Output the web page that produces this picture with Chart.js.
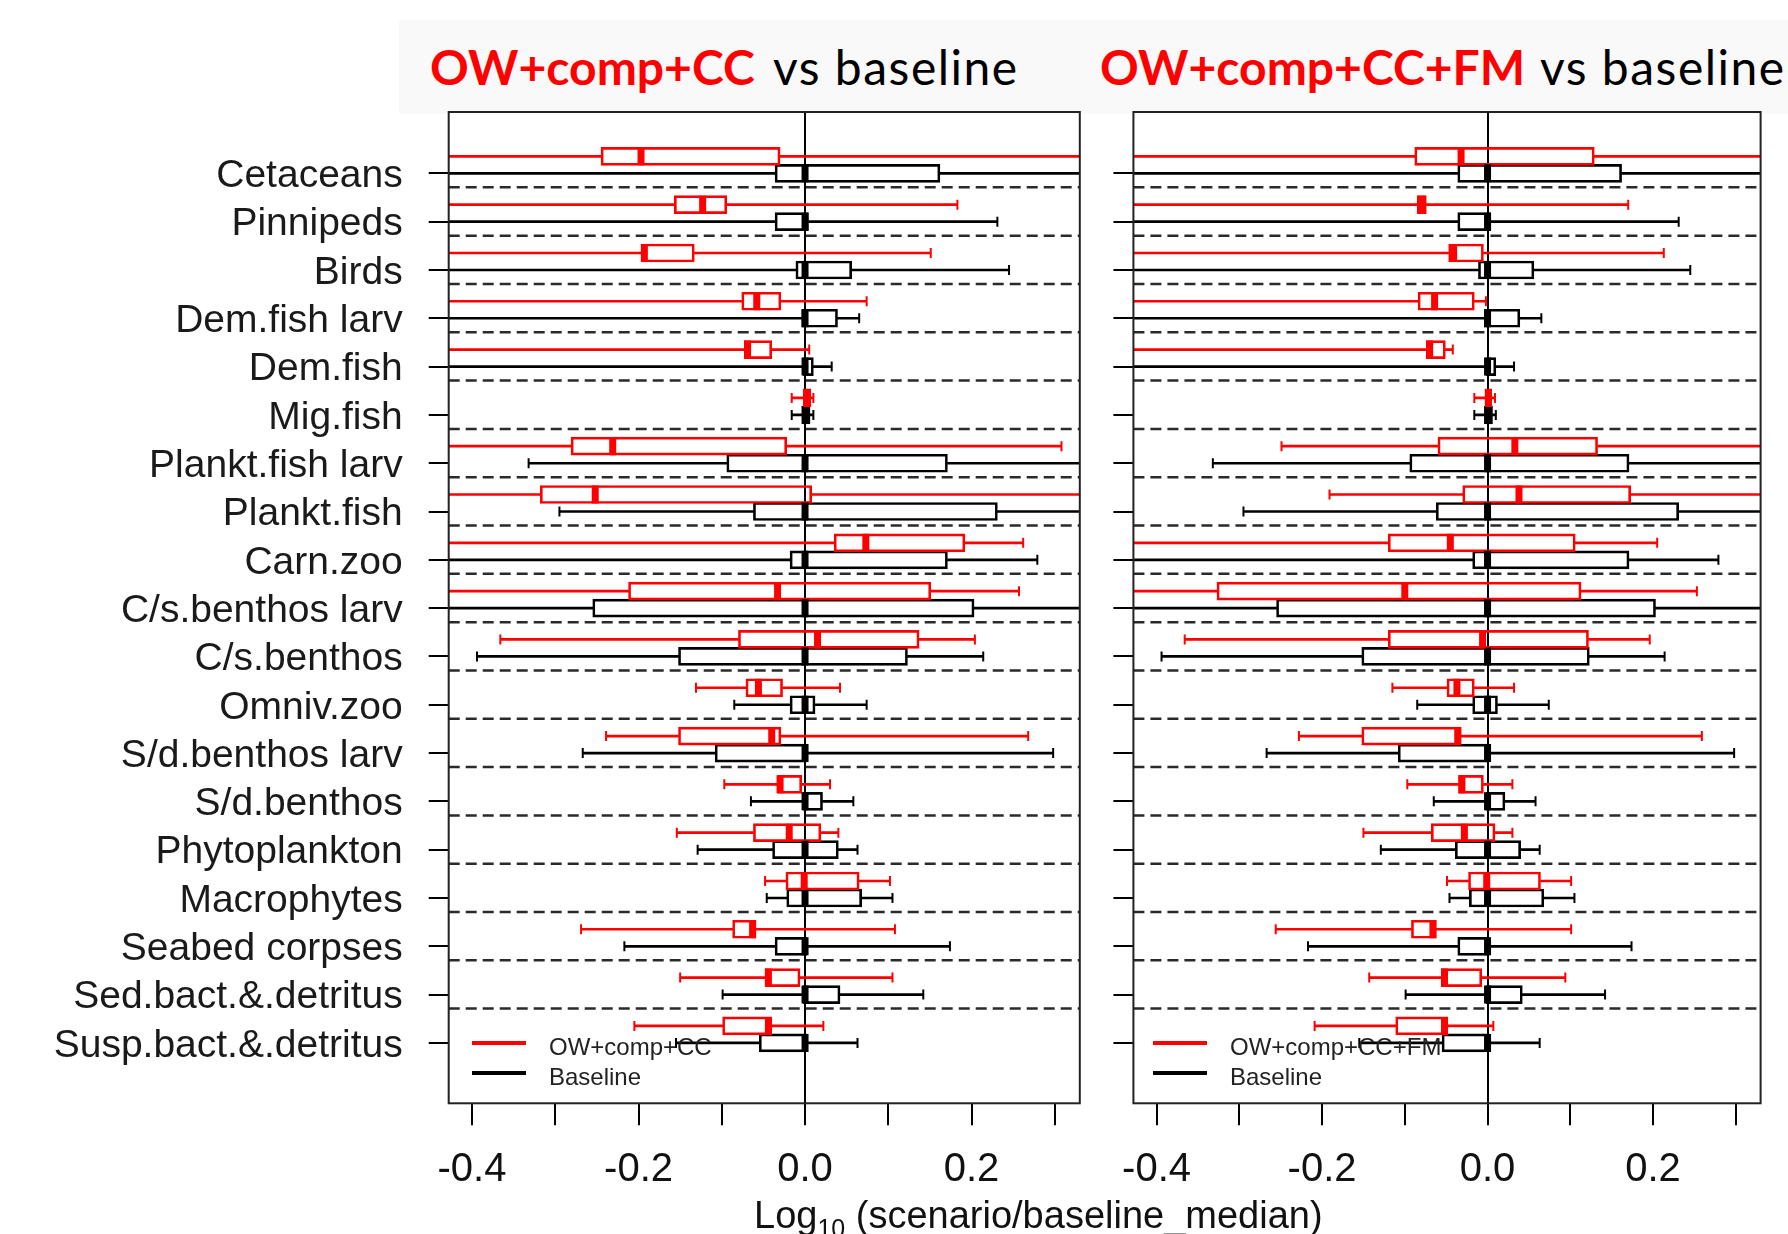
<!DOCTYPE html>
<html>
<head>
<meta charset="utf-8">
<script src="https://cdn.jsdelivr.net/npm/chart.js@4.4.1/dist/chart.umd.min.js"></script>
<style>
  html, body { margin: 0; padding: 0; background: #fff; }
  body { width: 1788px; height: 1234px; overflow: hidden; position: relative; font-family: 'Liberation Sans', Arial, sans-serif; }
  .wrap { position: absolute; top: 0; height: 1234px; }
  .band { position: absolute; left: 399px; top: 20px; width: 1389px; height: 94px; background: #f9f9f9; }
  .title { position: absolute; top: 43px; font-family: Lato, 'Noto Sans', sans-serif; font-size: 48px; line-height: 1; white-space: nowrap; color: #000; }
  .title.r { color: #ff0000; font-weight: 700; }
  .title.k { letter-spacing: 1.5px; }
  .legline { position: absolute; width: 54px; height: 4px; }
  .legtext { position: absolute; font-size: 24px; line-height: 1; color: #222; white-space: nowrap; }
  .xtitle { position: absolute; left: 754px; top: 1196px; font-size: 38px; line-height: 1; color: #111; white-space: nowrap; }
  .xtitle sub { font-size: 25px; vertical-align: -9px; line-height: 0; }
</style>
</head>
<body>
<div class="band"></div>
<div class="title r" style="left:430px">OW+comp+CC</div>
<div class="title k" style="left:773px">vs baseline</div>
<div class="title r" style="left:1100px">OW+comp+CC+FM</div>
<div class="title k" style="left:1540px">vs baseline</div>

<div class="wrap" style="left:0;width:1110px"><canvas id="c1"></canvas></div>
<div class="wrap" style="left:1100px;width:688px"><canvas id="c2"></canvas></div>

<div class="legline" style="left:472px;top:1041px;background:#f00"></div>
<div class="legtext" style="left:549px;top:1035px">OW+comp+CC</div>
<div class="legline" style="left:472px;top:1071px;background:#000"></div>
<div class="legtext" style="left:549px;top:1065px">Baseline</div>

<div class="legline" style="left:1153px;top:1041px;background:#f00"></div>
<div class="legtext" style="left:1230px;top:1035px">OW+comp+CC+FM</div>
<div class="legline" style="left:1153px;top:1071px;background:#000"></div>
<div class="legtext" style="left:1230px;top:1065px">Baseline</div>

<div class="xtitle">Log<sub>10</sub> (scenario/baseline_median)</div>

<script>
var cats = ['Cetaceans', 'Pinnipeds', 'Birds', 'Dem.fish larv', 'Dem.fish', 'Mig.fish',
  'Plankt.fish larv', 'Plankt.fish', 'Carn.zoo', 'C/s.benthos larv', 'C/s.benthos', 'Omniv.zoo',
  'S/d.benthos larv', 'S/d.benthos', 'Phytoplankton', 'Macrophytes', 'Seabed corpses',
  'Sed.bact.&.detritus', 'Susp.bact.&.detritus'];

var xTicks = [-0.4, -0.3, -0.2, -0.1, 0, 0.1, 0.2, 0.3];
var xTickLabels = ['-0.4', '', '-0.2', '', '0.0', '', '0.2', ''];

// whiskers that run off the frame are given as -0.5 / 0.45
// baseline (same in both panels)
var baseLo  = [-0.5, -0.5, -0.5, -0.5, -0.5, -0.016, -0.332, -0.295, -0.5, -0.5, -0.394, -0.085, -0.267, -0.065, -0.129, -0.046, -0.217, -0.099, -0.155];
var baseQ1  = [-0.036, -0.036, -0.011, -0.004, -0.002, -0.002, -0.094, -0.062, -0.018, -0.255, -0.152, -0.018, -0.108, -0.002, -0.039, -0.022, -0.036, -0.002, -0.055];
var baseMed = [0, 0, 0, 0, 0, 0, 0, 0, 0, 0, 0, 0, 0, 0, 0, 0, 0, 0, 0];
var baseQ3  = [0.162, 0.004, 0.056, 0.039, 0.010, 0.006, 0.171, 0.231, 0.171, 0.203, 0.123, 0.012, 0.002, 0.021, 0.040, 0.068, 0.002, 0.042, 0.002];
var baseHi  = [0.45, 0.231, 0.245, 0.065, 0.032, 0.010, 0.45, 0.45, 0.279, 0.45, 0.214, 0.074, 0.298, 0.058, 0.063, 0.105, 0.174, 0.142, 0.063];

// OW+comp+CC
var ccLo  = [-0.5, -0.5, -0.5, -0.5, -0.5, -0.016, -0.5, -0.5, -0.5, -0.5, -0.366, -0.131, -0.239, -0.097, -0.154, -0.048, -0.269, -0.150, -0.205];
var ccQ1  = [-0.245, -0.157, -0.196, -0.076, -0.073, -0.002, -0.281, -0.318, 0.035, -0.212, -0.080, -0.071, -0.152, -0.033, -0.062, -0.023, -0.087, -0.048, -0.099];
var ccMed = [-0.197, -0.123, -0.193, -0.058, -0.069, 0.002, -0.231, -0.252, 0.073, -0.033, 0.015, -0.056, -0.040, -0.030, -0.019, -0.001, -0.063, -0.044, -0.044];
var ccQ3  = [-0.030, -0.094, -0.133, -0.029, -0.040, 0.007, -0.022, 0.008, 0.192, 0.151, 0.137, -0.027, -0.029, -0.004, 0.019, 0.065, -0.059, -0.006, -0.040];
var ccHi  = [0.45, 0.183, 0.151, 0.074, 0.005, 0.010, 0.308, 0.45, 0.262, 0.257, 0.204, 0.042, 0.268, 0.030, 0.040, 0.102, 0.108, 0.105, 0.022];

// OW+comp+CC+FM
var fmLo  = [-0.5, -0.5, -0.5, -0.5, -0.5, -0.016, -0.249, -0.191, -0.5, -0.5, -0.366, -0.115, -0.228, -0.097, -0.150, -0.049, -0.256, -0.143, -0.209];
var fmQ1  = [-0.088, -0.085, -0.047, -0.084, -0.074, -0.003, -0.060, -0.030, -0.120, -0.327, -0.120, -0.049, -0.152, -0.035, -0.068, -0.023, -0.092, -0.056, -0.111];
var fmMed = [-0.032, -0.080, -0.041, -0.064, -0.070, 0.001, 0.033, 0.038, -0.045, -0.100, -0.006, -0.037, -0.036, -0.031, -0.028, -0.001, -0.066, -0.052, -0.052];
var fmQ3  = [0.129, -0.074, -0.005, -0.016, -0.051, 0.005, 0.133, 0.173, 0.106, 0.113, 0.122, -0.016, -0.032, -0.005, 0.009, 0.064, -0.062, -0.007, -0.048];
var fmHi  = [0.45, 0.170, 0.213, -0.002, -0.042, 0.009, 0.45, 0.45, 0.205, 0.253, 0.196, 0.032, 0.259, 0.030, 0.030, 0.101, 0.101, 0.094, 0.007];

var X_MIN = -0.428, X_MAX = 0.33;
var Y_MIN = -1.27, Y_MAX = 19.25;
var RED_OFF = -0.352;   // scenario box sits above the baseline box
var SEP = 0.29;         // dashed separator below each group

function rows(a, b, off) {
  return cats.map(function(c, i) { return {x: [a[i], b[i]], y: i + off}; });
}
function points(v, off) {
  return cats.map(function(c, i) { return {x: v[i], y: i + off}; });
}

function boxSet(lo, q1, med, q3, hi, color, off) {
  return [
    {type: 'scatter', order: 0, data: points(med, off), pointStyle: 'line', pointRotation: 90,
      pointRadius: 9, pointBorderWidth: 7, pointBorderColor: color, clip: 0},
    {type: 'scatter', order: 1, data: points(lo, off).concat(points(hi, off)), pointStyle: 'line',
      pointRotation: 90, pointRadius: 5, pointBorderWidth: 2, pointBorderColor: color, clip: 0},
    {type: 'bar', order: 2, data: rows(q1, q3, off), grouped: false, barThickness: 18,
      borderWidth: 2, borderColor: color, borderSkipped: false, backgroundColor: 'rgba(0,0,0,0)', clip: 0},
    {type: 'bar', order: 3, data: rows(lo, q1, off).concat(rows(q3, hi, off)), grouped: false,
      barThickness: 2, borderWidth: 0, backgroundColor: color, clip: 0}
  ];
}

function separators() {
  return cats.slice(1).map(function(c, i) {
    return {type: 'line', order: 4, data: [{x: X_MIN, y: i + SEP}, {x: X_MAX, y: i + SEP}],
      borderColor: '#2a2a2a', borderWidth: 2.5, borderDash: [11, 6], pointRadius: 0, clip: 0};
  });
}

var framePlugin = {
  id: 'frame',
  afterDraw: function(chart) {
    var a = chart.chartArea, ctx = chart.ctx;
    ctx.save();
    ctx.strokeStyle = '#222';
    ctx.lineWidth = 2;
    ctx.strokeRect(a.left, a.top, a.right - a.left, a.bottom - a.top);
    ctx.restore();
  }
};

function makeChart(id, sets, withLabels, axisWidth, padRight) {
  return new Chart(document.getElementById(id), {
    type: 'bar',
    data: {datasets: sets},
    plugins: [framePlugin],
    options: {
      indexAxis: 'y',
      responsive: true,
      maintainAspectRatio: false,
      animation: false,
      events: [],
      layout: {padding: {top: 112, right: padRight, bottom: 0, left: 0}},
      plugins: {legend: {display: false}, tooltip: {enabled: false}},
      scales: {
        x: {
          type: 'linear', position: 'bottom', min: X_MIN, max: X_MAX,
          afterFit: function(s) { s.height = 130.7; },
          afterBuildTicks: function(s) { s.ticks = xTicks.map(function(v) { return {value: v}; }); },
          border: {display: false},
          grid: {
            drawOnChartArea: true, drawTicks: true, tickLength: 22, lineWidth: 2, tickColor: '#000',
            color: function(c) { return c.tick && Math.abs(c.tick.value) < 1e-9 ? '#000' : 'rgba(0,0,0,0)'; }
          },
          ticks: {
            padding: 21, maxRotation: 0, autoSkip: false, color: '#111',
            font: {family: 'Liberation Sans', size: 40},
            callback: function(v, i) { return xTickLabels[i]; }
          }
        },
        y: {
          type: 'linear', position: 'left', min: Y_MIN, max: Y_MAX, reverse: true, offset: false,
          afterFit: function(s) { s.width = axisWidth; },
          afterBuildTicks: function(s) { s.ticks = cats.map(function(c, i) { return {value: i}; }); },
          border: {display: false},
          grid: {offset: false, drawOnChartArea: false, drawTicks: true, tickLength: 20, lineWidth: 2, color: '#000'},
          ticks: {
            padding: 26, labelOffset: 3, autoSkip: false, color: '#1a1a1a',
            font: {family: 'Liberation Sans', size: 39},
            callback: function(v, i) { return withLabels ? cats[i] : ''; }
          }
        }
      }
    }
  });
}

var sets1 = boxSet(ccLo, ccQ1, ccMed, ccQ3, ccHi, '#ff0000', RED_OFF)
  .concat(boxSet(baseLo, baseQ1, baseMed, baseQ3, baseHi, '#000000', 0))
  .concat(separators());
var sets2 = boxSet(fmLo, fmQ1, fmMed, fmQ3, fmHi, '#ff0000', RED_OFF)
  .concat(boxSet(baseLo, baseQ1, baseMed, baseQ3, baseHi, '#000000', 0))
  .concat(separators());

makeChart('c1', sets1, true, 448.7, 30.2);
makeChart('c2', sets2, false, 30.3, 27.4);
</script>
</body>
</html>
